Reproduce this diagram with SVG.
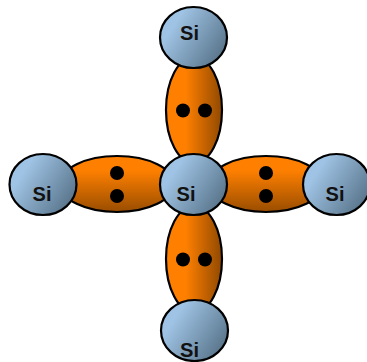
<svg xmlns="http://www.w3.org/2000/svg" width="367" height="362" viewBox="0 0 367 362">
<style>
.lobe{stroke:#000;stroke-width:2.2}
.v{fill:url(#lv)}
.h{fill:url(#lh)}
.atom{fill:url(#blue);stroke:#000;stroke-width:2.2}
.dot{fill:#000}
text{font-family:"Liberation Sans",Arial,sans-serif;font-weight:bold;font-size:20px;text-anchor:middle;fill:#111}
</style>
<defs>
<linearGradient id="lv" x1="0" y1="0" x2="1" y2="0"><stop offset="0.35" stop-color="#ff8000"/><stop offset="1" stop-color="#914900"/></linearGradient>
<linearGradient id="lh" x1="0" y1="0" x2="0" y2="1"><stop offset="0.25" stop-color="#ff8000"/><stop offset="1" stop-color="#994d00"/></linearGradient>
<linearGradient id="blue" x1="0.15" y1="0.2" x2="1" y2="0.7"><stop offset="0.1" stop-color="#9fc3e4"/><stop offset="1" stop-color="#58748a"/></linearGradient>
</defs>
<g id="bonds">
<ellipse id="bond-top" class="lobe v" cx="194" cy="110" rx="28" ry="53"/>
<ellipse id="bond-bottom" class="lobe v" cx="194" cy="259" rx="28" ry="53"/>
<ellipse id="bond-left" class="lobe h" cx="117" cy="184" rx="57" ry="28"/>
<ellipse id="bond-right" class="lobe h" cx="266" cy="184" rx="57" ry="28"/>
</g>
<g id="electrons">
<circle class="dot" cx="183" cy="110.500" r="7"/><circle class="dot" cx="205" cy="110.500" r="7"/>
<circle class="dot" cx="183" cy="259.500" r="7"/><circle class="dot" cx="205" cy="259.500" r="7"/>
<circle class="dot" cx="117" cy="173" r="7"/><circle class="dot" cx="117" cy="196" r="7"/>
<circle class="dot" cx="266" cy="173" r="7"/><circle class="dot" cx="266" cy="196" r="7"/>
</g>
<g id="si-top"><ellipse class="atom" cx="193.500" cy="37.500" rx="33.500" ry="30.500"/><text x="189.500" y="39.500">Si</text></g>
<g id="si-left"><ellipse class="atom" cx="43" cy="184.500" rx="33.500" ry="30.500"/><text x="42" y="200.500">Si</text></g>
<g id="si-center"><ellipse class="atom" cx="193.500" cy="184.500" rx="33.500" ry="30.500"/><text x="186" y="200.500">Si</text></g>
<g id="si-right"><ellipse class="atom" cx="336.500" cy="184.500" rx="33.500" ry="30.500"/><text x="335" y="200.500">Si</text></g>
<g id="si-bottom"><ellipse class="atom" cx="194.500" cy="330.500" rx="33.500" ry="30.500"/><text x="189.500" y="357">Si</text></g>
</svg>
